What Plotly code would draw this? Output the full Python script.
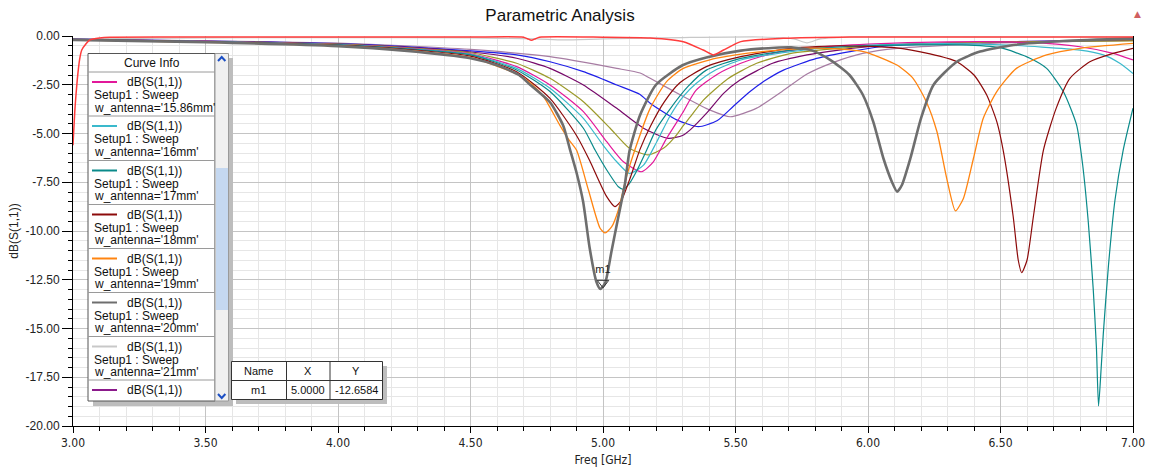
import plotly.graph_objects as go

# ----------------------------- data -----------------------------
# w_antenna = 15.86 mm (magenta)
F_1586 = [3.0, 3.5, 4.0, 4.25, 4.5, 4.674, 4.8, 4.926, 5.014, 5.077, 5.146, 5.19, 5.24, 5.30, 5.35,
          5.43, 5.52, 5.64, 5.8, 6.0, 6.3, 6.6, 6.8, 6.925, 7.0]
S_1586 = [-0.18, -0.28, -0.44, -0.62, -0.91, -1.57, -2.51, -3.88, -5.42, -6.45, -6.96, -6.45, -5.25, -3.95, -2.8,
          -1.97, -1.4, -0.89, -0.6, -0.42, -0.3, -0.33, -0.55, -0.89, -1.23]

# w_antenna = 16 mm (light cyan)
F_16 = [3.0, 3.5, 4.0, 4.25, 4.5, 4.674, 4.8, 4.926, 5.0, 5.052, 5.10, 5.153, 5.203, 5.253, 5.303, 5.35,
        5.42, 5.52, 5.71, 5.9, 6.2, 6.5, 6.8, 6.888, 6.95, 7.0]
S_16 = [-0.18, -0.29, -0.45, -0.64, -0.94, -1.66, -2.68, -4.22, -5.59, -6.45, -7.05, -6.62, -5.42, -4.1, -3.1, -2.45,
        -1.78, -1.23, -0.8, -0.55, -0.4, -0.45, -0.72, -0.97, -1.4, -1.92]

# w_antenna = 17 mm (teal)
F_17 = [3.0, 3.5, 4.0, 4.25, 4.5, 4.674, 4.8, 4.926, 4.97, 5.014, 5.058, 5.077, 5.10, 5.128, 5.165, 5.2,
        5.25, 5.32, 5.39, 5.52, 5.71, 6.0, 6.35, 6.5, 6.611, 6.674, 6.737, 6.787, 6.81, 6.831, 6.85, 6.862,
        6.87, 6.88, 6.888, 6.907, 6.932, 6.963, 7.0]
S_17 = [-0.18, -0.29, -0.46, -0.65, -0.97, -1.74, -2.85, -4.73, -5.85, -6.87, -7.73, -7.86, -7.56, -6.9, -5.85, -4.8,
        -3.8, -2.6, -1.75, -1.15, -0.72, -0.5, -0.45, -0.6, -1.14, -1.66, -2.85, -4.56, -6.6, -9.5, -13.0, -16.0,
        -18.97, -17.0, -15.25, -11.83, -8.41, -5.85, -3.7]

# w_antenna = 18 mm (dark red)
F_18 = [3.0, 3.5, 4.0, 4.25, 4.5, 4.674, 4.8, 4.9, 4.95, 4.977, 5.014, 5.045, 5.07, 5.10, 5.14, 5.18,
        5.23, 5.29, 5.39, 5.52, 5.71, 5.9, 6.1, 6.234, 6.335, 6.4, 6.448, 6.486, 6.51, 6.548, 6.567, 6.58,
        6.6, 6.624, 6.662, 6.71, 6.762, 6.837, 6.925, 7.0]
S_18 = [-0.19, -0.3, -0.48, -0.68, -1.03, -1.83, -3.2, -5.1, -6.4, -7.2, -8.24, -8.75, -8.41, -7.38, -5.8, -4.6,
        -3.4, -2.4, -1.57, -1.06, -0.63, -0.5, -0.6, -0.92, -1.32, -2.0, -3.03, -4.39, -5.85, -9.27, -11.5, -12.14,
        -11.5, -9.27, -5.85, -3.71, -2.17, -1.32, -0.89, -0.63]

# w_antenna = 19 mm (orange)
F_19 = [3.0, 3.5, 4.0, 4.25, 4.5, 4.674, 4.725, 4.775, 4.838, 4.87, 4.90, 4.945, 4.989, 5.008, 5.033, 5.058,
        5.089, 5.12, 5.178, 5.24, 5.303, 5.429, 5.6, 5.8, 5.983, 6.109, 6.17, 6.22, 6.26, 6.297, 6.33, 6.36,
        6.398, 6.435, 6.486, 6.56, 6.674, 6.8, 7.0]
S_19 = [-0.2, -0.32, -0.5, -0.72, -1.1, -1.95, -2.4, -3.1, -4.6, -5.3, -5.85, -7.9, -9.86, -10.1, -9.78, -8.92,
        -7.2, -5.85, -3.71, -2.34, -1.66, -1.14, -0.8, -0.62, -0.8, -1.49, -2.17, -3.37, -4.9, -7.3, -8.97, -8.33,
        -6.27, -4.22, -2.85, -1.66, -0.97, -0.63, -0.38]

# w_antenna = 20 mm (grey, thick)
F_20 = [3.0, 3.5, 4.0, 4.25, 4.5, 4.6, 4.683, 4.725, 4.8, 4.85, 4.875, 4.9, 4.925, 4.95, 4.975, 4.99,
        5.008, 5.033, 5.058, 5.083, 5.10, 5.14, 5.2, 5.3, 5.39, 5.52, 5.65, 5.71, 5.79, 5.86, 5.93, 5.98,
        6.02, 6.058, 6.09, 6.11, 6.128, 6.16, 6.2, 6.247, 6.335, 6.423, 6.55, 6.737, 7.0]
S_20 = [-0.2, -0.32, -0.52, -0.75, -1.14, -1.5, -2.0, -2.5, -3.4, -4.6, -5.8, -7.0, -8.5, -10.9, -12.6, -12.97,
        -12.67, -10.97, -9.27, -7.56, -5.9, -4.05, -2.5, -1.5, -1.1, -0.75, -0.6, -0.58, -0.75, -1.25, -2.0, -3.0,
        -4.4, -6.27, -7.47, -7.98, -7.64, -6.27, -4.22, -2.51, -1.32, -0.8, -0.46, -0.26, -0.12]

# w_antenna = 21 mm (light grey)
F_21 = [3.0, 3.5, 4.0, 4.5, 4.75, 4.85, 5.0, 5.3, 5.6, 5.72, 5.77, 5.82, 5.95, 6.5, 7.0]
S_21 = [-0.15, -0.1, -0.08, -0.1, -0.15, -0.2, -0.15, -0.08, -0.05, -0.15, -0.35, -0.15, -0.05, -0.05, -0.05]

# purple
F_P = [3.0, 3.5, 4.0, 4.25, 4.5, 4.674, 4.8, 4.926, 5.052, 5.153, 5.246, 5.30, 5.33, 5.39, 5.455, 5.517,
       5.64, 5.77, 5.89, 6.08, 6.5, 7.0]
S_P = [-0.17, -0.27, -0.41, -0.57, -0.82, -1.14, -1.66, -2.51, -3.71, -4.73, -5.25, -5.1, -4.8, -3.97, -2.94, -2.26,
       -1.4, -0.97, -0.72, -0.46, -0.3, -0.22]

# olive
F_O = [3.0, 3.5, 4.0, 4.25, 4.5, 4.674, 4.8, 4.926, 5.027, 5.10, 5.17, 5.228, 5.27, 5.303, 5.33, 5.378,
       5.47, 5.58, 5.71, 5.89, 6.08, 6.5, 7.0]
S_O = [-0.17, -0.27, -0.42, -0.6, -0.86, -1.4, -2.17, -3.37, -4.73, -5.76, -6.1, -5.76, -5.2, -4.6, -4.14, -3.3,
       -2.2, -1.4, -0.89, -0.63, -0.46, -0.3, -0.25]

# blue
F_B = [3.0, 3.5, 4.0, 4.25, 4.5, 4.674, 4.8, 4.926, 5.052, 5.14, 5.178, 5.278, 5.36, 5.43, 5.492, 5.555,
       5.61, 5.681, 5.806, 5.932, 6.08, 6.5, 7.0]
S_B = [-0.16, -0.26, -0.39, -0.54, -0.76, -0.97, -1.32, -1.83, -2.51, -3.0, -3.45, -4.3, -4.65, -4.35, -3.6, -2.85,
       -2.3, -1.75, -1.15, -0.8, -0.5, -0.3, -0.2]

# mauve
F_M = [3.0, 3.5, 4.0, 4.25, 4.5, 4.8, 5.052, 5.14, 5.178, 5.303, 5.404, 5.48, 5.58, 5.67, 5.77, 5.87,
       5.98, 6.11, 6.5, 7.0]
S_M = [-0.16, -0.25, -0.37, -0.5, -0.69, -1.06, -1.66, -1.9, -2.17, -3.1, -3.8, -4.14, -3.7, -2.9, -1.95, -1.35,
       -0.89, -0.63, -0.35, -0.22]

# red
F_R = [3.0, 3.008, 3.016, 3.025, 3.033, 3.05, 3.064, 3.1, 3.14, 3.5, 4.0, 4.5, 4.70, 4.715, 4.73, 4.745,
       4.76, 5.0, 5.178, 5.303, 5.378, 5.417, 5.455, 5.52, 5.68, 5.93, 7.0]
S_R = [-5.6, -3.6, -2.26, -1.2, -0.72, -0.38, -0.2, -0.1, -0.06, -0.05, -0.05, -0.05, -0.06, -0.14, -0.22, -0.14,
       -0.06, -0.06, -0.1, -0.29, -0.72, -0.97, -0.72, -0.29, -0.12, -0.05, -0.05]

# legend labels (visible part of "Curve Info")
LEGEND_LABELS = ["w_antenna='15.86mm'", "w_antenna='16mm'", "w_antenna='17mm'", "w_antenna='18mm'",
                 "w_antenna='19mm'", "w_antenna='20mm'", "w_antenna='21mm'"]
CURVE_TITLE = "dB(S(1,1))"
SETUP_TEXT = "Setup1 : Sweep"

# marker m1
M_NAME = ["m1"]
M_X = [5.0]
M_Y = [-12.6584]

# axes ticks
X_TICKS = [3.0, 3.5, 4.0, 4.5, 5.0, 5.5, 6.0, 6.5, 7.0]
Y_TICKS = [0.0, -2.5, -5.0, -7.5, -10.0, -12.5, -15.0, -17.5, -20.0]

# ----------------------------- styling -----------------------------
FONT = "Liberation Sans, Arial, sans-serif"
NARROW = "Liberation Sans Narrow, Arial Narrow, DejaVu Sans Condensed, Liberation Sans, Arial, sans-serif"

series = [
    (F_21, S_21, "#c8c8c8", 1.2, "21mm"),
    (F_M, S_M, "#a77ca3", 1.2, "mauve"),
    (F_B, S_B, "#1f1fe8", 1.2, "blue"),
    (F_P, S_P, "#76086a", 1.2, "purple"),
    (F_O, S_O, "#9c9a2a", 1.2, "olive"),
    (F_1586, S_1586, "#e2189a", 1.2, "15.86mm"),
    (F_16, S_16, "#3ab9cc", 1.2, "16mm"),
    (F_17, S_17, "#0a8a8a", 1.2, "17mm"),
    (F_18, S_18, "#8c0a0a", 1.2, "18mm"),
    (F_19, S_19, "#ff8410", 1.3, "19mm"),
    (F_20, S_20, "#6e6e6e", 2.6, "20mm"),
    (F_R, S_R, "#ff3c3c", 1.5, "red"),
]
legend_colors = ["#e2189a", "#3ab9cc", "#0a8a8a", "#8c0a0a", "#ff8410", "#6e6e6e", "#c8c8c8", "#8b1a8b"]

fig = go.Figure()
for fx, sy, col, w, nm in series:
    fig.add_trace(go.Scatter(x=fx, y=sy, mode="lines", name=nm,
                             line=dict(color=col, width=w, shape="spline", smoothing=0.6),
                             hoverinfo="skip", showlegend=False))

fig.add_trace(go.Scatter(x=M_X, y=M_Y, mode="markers+text", text=M_NAME, textposition="top center",
                         textfont=dict(family=FONT, size=11, color="#222"),
                         marker=dict(symbol="triangle-down-open", size=10, color="#333",
                                     line=dict(width=1, color="#333")),
                         hoverinfo="skip", showlegend=False, cliponaxis=False))

L, R, T, B = 73, 1133, 36, 426
W, H = 1151, 470


def PX(x):
    return (x - L) / (R - L)


def PY(y):
    return (B - y) / (B - T)


shapes = []
annots = []


def rect(x0, y0, x1, y1, fill, line="rgba(0,0,0,0)", lw=1):
    shapes.append(dict(type="rect", xref="paper", yref="paper", x0=PX(x0), x1=PX(x1), y0=PY(y0), y1=PY(y1),
                       fillcolor=fill, line=dict(color=line, width=lw), layer="above"))


def hline(x0, x1, y, col, lw=1):
    shapes.append(dict(type="line", xref="paper", yref="paper", x0=PX(x0), x1=PX(x1), y0=PY(y), y1=PY(y),
                       line=dict(color=col, width=lw), layer="above"))


def vline(x, y0, y1, col, lw=1):
    shapes.append(dict(type="line", xref="paper", yref="paper", x0=PX(x), x1=PX(x), y0=PY(y0), y1=PY(y1),
                       line=dict(color=col, width=lw), layer="above"))


def chevron(pts, col):
    d = "M " + " L ".join(f"{PX(a)},{PY(b)}" for a, b in pts)
    shapes.append(dict(type="path", xref="paper", yref="paper", path=d,
                       line=dict(color=col, width=2), layer="above"))


def text(x, y, s, size=12, anchor="left", color="#111", fam=FONT):
    annots.append(dict(xref="paper", yref="paper", x=PX(x), y=PY(y), text=s, showarrow=False,
                       xanchor=anchor, yanchor="middle", font=dict(family=fam, size=size, color=color)))


# ---- Curve Info panel ----
rect(93, 58, 233, 406, "#bdbdbd")                 # shadow
rect(88, 53.5, 215, 401, "white", "#555555")      # box
rect(215, 53.5, 228.5, 401, "#f0f0f0", "#9a9a9a")  # scrollbar track
rect(216, 168, 228, 310, "#c5d8f0")               # thumb
chevron([(218, 61), (221.7, 57), (225.4, 61)], "#1c4fc4")
chevron([(218, 394), (221.7, 398), (225.4, 394)], "#1c4fc4")
text(152, 63, "Curve Info", 12, "center")
row_tops = [72, 116, 160.5, 204.5, 248.5, 292.5, 336.5, 380]
for yt in row_tops:
    hline(88, 215, yt, "#9a9a9a")
for i, yt in enumerate(row_tops):
    hline(92, 117, yt + 10, legend_colors[i], 2)
    text(125, yt + 10, CURVE_TITLE, 12)
    if i < len(LEGEND_LABELS):
        text(92, yt + 23, SETUP_TEXT, 12)
        text(92, yt + 35.5, LEGEND_LABELS[i], 12)

# ---- marker table ----
rect(236, 366, 387, 404, "#bdbdbd")
rect(231.5, 361.5, 382.5, 399.5, "white", "#333333")
hline(231.5, 382.5, 380.5, "#333333")
vline(286.5, 361.5, 399.5, "#333333")
vline(330, 361.5, 399.5, "#333333")
text(258.5, 371, "Name", 11, "center")
text(308, 371, "X", 11, "center")
text(356, 371, "Y", 11, "center")
text(258.5, 390, M_NAME[0], 11, "center")
text(308, 390, f"{M_X[0]:.4f}", 11, "center")
text(356, 390, f"{M_Y[0]:.4f}", 11, "center")

# small warning icon top-right
annots.append(dict(xref="paper", yref="paper", x=PX(1137), y=PY(14), text="▲", showarrow=False,
                   xanchor="center", yanchor="middle", font=dict(family="DejaVu Sans", size=9, color="#d06060")))

fig.update_layout(
    width=W, height=H,
    margin=dict(l=L, r=W - R, t=T, b=H - B, pad=0, autoexpand=False),
    paper_bgcolor="white", plot_bgcolor="white",
    title=dict(text="Parametric Analysis", x=560 / W, xref="container", xanchor="center",
               y=1 - 15 / H, yref="container", yanchor="middle",
               font=dict(family=FONT, size=17, color="#111")),
    shapes=shapes, annotations=annots,
    xaxis=dict(range=[3.0, 7.0], tickvals=X_TICKS, ticktext=[f"{v:.2f}" for v in X_TICKS], automargin=False,
               showline=True, linecolor="black", linewidth=1, ticks="outside", ticklen=6, tickcolor="black",
               showgrid=True, gridcolor="#c4c4c4", gridwidth=1, zeroline=False,
               minor=dict(dtick=0.1, tick0=3.0, ticks="outside", ticklen=4, tickcolor="black",
                          showgrid=True, gridcolor="#e6e6e6", gridwidth=1),
               tickfont=dict(family=NARROW, size=12, color="#222"),
               title=dict(text="Freq [GHz]", font=dict(family=NARROW, size=12, color="#222"), standoff=6)),
    yaxis=dict(range=[-20.0, 0.0], tickvals=Y_TICKS, ticktext=[f"{v:.2f}" for v in Y_TICKS], automargin=False,
               showline=True, linecolor="black", linewidth=1, mirror=True,
               ticks="outside", ticklen=10, tickcolor="black",
               showgrid=True, gridcolor="#c4c4c4", gridwidth=1, zeroline=False,
               minor=dict(dtick=0.5, tick0=0.0, ticks="outside", ticklen=4, tickcolor="black",
                          showgrid=True, gridcolor="#e6e6e6", gridwidth=1),
               tickfont=dict(family=FONT, size=12, color="#222"),
               title=dict(text="dB(S(1,1))", font=dict(family=FONT, size=12, color="#222"), standoff=4)),
)

fig.write_html("out.html", config={"displayModeBar": False},
               post_script="document.body.style.margin='0px';")
